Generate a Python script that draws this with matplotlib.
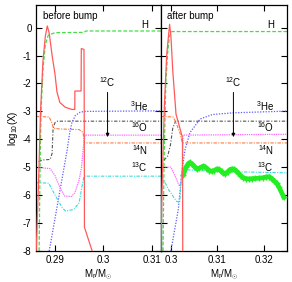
import matplotlib
matplotlib.use('Agg')
import matplotlib.pyplot as plt

plt.rcParams['font.family'] = ['Liberation Sans', 'DejaVu Sans']
plt.rcParams['font.size'] = 7
plt.rcParams['mathtext.fontset'] = 'custom'
plt.rcParams['mathtext.rm'] = 'Liberation Sans'
plt.rcParams['mathtext.it'] = 'Liberation Sans'

# ---- before bump (left panel) ----
b_red_x = [0.2861, 0.2866, 0.2870, 0.2875, 0.2880, 0.2884, 0.2888, 0.2891, 0.2894, 0.2900,
           0.2904, 0.2910, 0.2921, 0.2935, 0.2941, 0.29412, 0.2954, 0.29545, 0.2960,
           0.29605, 0.2961, 0.2977]
b_red_y = [-8.0, -5.5, -3.0, -1.2, -0.3, 0.06, -0.2, -0.6, -1.0, -1.67,
           -2.3, -2.68, -2.85, -2.93, -2.93, -2.27, -2.27, -0.75, -0.78,
           -2.5, -7.15, -8.0]

b_h_x = [0.2867, 0.2869, 0.2871, 0.2875, 0.2880, 0.2886, 0.2900, 0.2960, 0.2964, 0.3120]
b_h_y = [-8.0, -5.0, -3.0, -1.5, -0.6, -0.27, -0.18, -0.17, -0.12, -0.12]

b_he3_x = [0.2888, 0.2925, 0.2930, 0.2935, 0.2942, 0.2952, 0.2961, 0.3120]
b_he3_y = [-8.0, -4.4, -3.8, -3.4, -3.15, -3.03, -3.0, -2.98]

b_o16_x = [0.2866, 0.2875, 0.2890, 0.2894, 0.2896, 0.2900, 0.2905, 0.3120]
b_o16_y = [-4.8, -4.74, -4.72, -4.5, -3.6, -3.4, -3.35, -3.35]

b_c12_x = [0.2860, 0.2890, 0.2900, 0.2910, 0.2920, 0.2934, 0.2941, 0.2950, 0.2955, 0.2958,
           0.2962, 0.3120]
b_c12_y = [-5.0, -5.05, -5.3, -5.72, -6.03, -6.05, -5.92, -5.45, -5.0, -4.4,
           -3.85, -3.85]

b_n14_x = [0.2860, 0.2888, 0.2893, 0.2897, 0.2910, 0.2950, 0.2958, 0.2961, 0.3120]
b_n14_y = [-3.18, -3.2, -3.4, -3.6, -3.63, -3.65, -3.75, -4.13, -4.13]

b_c13_x = [0.2860, 0.2887, 0.2894, 0.2905, 0.2915, 0.2922, 0.2939, 0.2950, 0.2956, 0.2960,
           0.3120]
b_c13_y = [-5.55, -5.57, -5.8, -6.15, -6.45, -6.57, -6.51, -6.27, -5.68, -5.32,
           -5.32]

# ---- after bump (right panel) ----
a_red_x = [0.2979, 0.2980, 0.2986, 0.2991, 0.29972, 0.3000, 0.3004, 0.3011, 0.3019, 0.3024,
           0.3025, 0.30255]
a_red_y = [-8.0, -6.3, -2.75, -0.96, 0.12, -0.3, -1.55, -3.1, -3.58, -3.88,
           -4.06, -8.0]

a_h_x = [0.2983, 0.2985, 0.2989, 0.2993, 0.2997, 0.3002, 0.3250]
a_h_y = [-8.0, -5.0, -2.0, -0.9, -0.3, -0.14, -0.14]

a_he3_x = [0.3000, 0.3016, 0.3024, 0.3030, 0.3041, 0.3063, 0.3090, 0.3135, 0.3250]
a_he3_y = [-8.0, -6.5, -5.1, -4.4, -3.76, -3.27, -3.11, -3.05, -2.99]

a_o16_x = [0.2985, 0.2993, 0.2999, 0.3004, 0.3010, 0.3250]
a_o16_y = [-4.75, -4.6, -4.2, -3.6, -3.35, -3.35]

a_c12_x = [0.2978, 0.3000, 0.3010, 0.3016, 0.3019, 0.3022, 0.3024, 0.3026, 0.3250]
a_c12_y = [-4.98, -5.0, -5.35, -5.6, -5.68, -5.5, -5.2, -3.85, -3.82]

a_n14_x = [0.2978, 0.3005, 0.3012, 0.3020, 0.3024, 0.3026, 0.3250]
a_n14_y = [-3.18, -3.2, -3.45, -3.8, -4.1, -4.13, -4.13]

a_c13_x = [0.2978, 0.2983, 0.2995, 0.3012, 0.3019, 0.3022, 0.3025, 0.3040, 0.3100, 0.3250]
a_c13_y = [-5.38, -5.4, -5.8, -6.22, -6.26, -5.5, -5.05, -5.1, -5.15, -5.2]

a_plus_x = [0.3027, 0.3033, 0.3038, 0.3041, 0.3045, 0.3049, 0.3053, 0.3057, 0.3061, 0.3066,
            0.3070, 0.3074, 0.3078, 0.3083, 0.3088, 0.3093, 0.3099, 0.3104, 0.3109, 0.3113,
            0.3117, 0.3122, 0.3126, 0.3131, 0.3136, 0.3140, 0.3145, 0.3150, 0.3156, 0.3162,
            0.3168, 0.3175, 0.3182, 0.3190, 0.3198, 0.3205, 0.3212, 0.3218, 0.3223, 0.3228,
            0.3233, 0.3243]
a_plus_y = [-5.26, -4.98, -4.86, -4.83, -4.88, -4.95, -5.02, -5.06, -5.04, -4.99,
            -4.96, -4.99, -5.05, -5.12, -5.15, -5.12, -5.06, -5.08, -5.15, -5.22,
            -5.24, -5.17, -5.10, -5.06, -5.07, -5.12, -5.20, -5.30, -5.38, -5.41,
            -5.42, -5.41, -5.40, -5.39, -5.38, -5.35, -5.34, -5.42, -5.50, -5.58,
            -5.72, -6.07]

labels = ['H', '$^3$He', '$^{16}$O', '$^{14}$N', '$^{13}$C']
label_y = [0.08, -2.82, -3.57, -4.39, -4.99]

RED = '#ff5a5a'
GREEN = '#44dd44'
BLUE = '#5c5cff'
GREY = '#555555'
MAG = '#ff66ff'
ORANGE = '#ff7a40'
CYAN = '#33dddd'


def draw(ax, red, h, he3, o16, c12, n14, c13):
    ax.plot(*red, color=RED, lw=0.9, zorder=5)
    ax.plot(*h, color=GREEN, lw=0.9, dashes=(3, 1.5))
    ax.plot(*he3, color=BLUE, lw=0.9, dashes=(1, 1.2))
    ax.plot(*o16, color=GREY, lw=0.8, dashes=(3, 1.5, 1, 1.5))
    ax.plot(*c12, color=MAG, lw=0.9, dashes=(1, 0.8))
    ax.plot(*n14, color=ORANGE, lw=0.8, dashes=(3, 1.2, 1, 1.2))
    ax.plot(*c13, color=CYAN, lw=0.8, dashes=(3, 1.2, 1, 1.2))


fig = plt.figure(figsize=(2.92, 2.82), dpi=100)
ax1 = fig.add_axes([0.1223, 0.1099, 0.4280, 0.8713])
ax2 = fig.add_axes([0.5503, 0.1099, 0.4326, 0.8713])

draw(ax1, (b_red_x, b_red_y), (b_h_x, b_h_y), (b_he3_x, b_he3_y), (b_o16_x, b_o16_y),
     (b_c12_x, b_c12_y), (b_n14_x, b_n14_y), (b_c13_x, b_c13_y))
draw(ax2, (a_red_x, a_red_y), (a_h_x, a_h_y), (a_he3_x, a_he3_y), (a_o16_x, a_o16_y),
     (a_c12_x, a_c12_y), (a_n14_x, a_n14_y), (a_c13_x, a_c13_y))
ax2.plot(a_plus_x, a_plus_y, color='#22ee22', lw=3.4, zorder=4)
ax2.plot(a_plus_x, a_plus_y, '+', color='#22ee22', ms=4.5, mew=1.0, zorder=4)

ax1.set_xlim(0.2860, 0.3119)
ax2.set_xlim(0.2978, 0.3250)
ax1.set_xticks([0.29, 0.30, 0.31])
ax1.set_xticklabels(['0.29', '0.3', '0.31'])
ax2.set_xticks([0.30, 0.31, 0.32])
ax2.set_xticklabels(['0.3', '0.31', '0.32'])

for ax in (ax1, ax2):
    ax.set_ylim(-8, 0.8)
    ax.set_yticks(range(-8, 1))
    ax.tick_params(direction='in', length=4, width=0.8, top=True, right=True,
                   labelsize=7, pad=3)
    for s in ax.spines.values():
        s.set_linewidth(0.9)
    ax.set_xlabel(r'M$_r$/M$_{\odot}$', fontsize=7, labelpad=2)

ax1.set_yticklabels([str(v) for v in range(-8, 1)])
ax2.tick_params(labelleft=False)
ax1.set_ylabel(r'log$_{10}$(X)', fontsize=7, labelpad=2)

ax1.text(0.28745, 0.42, 'before bump', ha='left', va='center', fontsize=7)
ax2.text(0.29914, 0.42, 'after bump', ha='left', va='center', fontsize=7)

for ax, xr, xa in ((ax1, 0.3093, 0.30089), (ax2, 0.3222, 0.31346)):
    for lab, ly in zip(labels, label_y):
        ax.text(xr, ly, lab, ha='right', va='center', fontsize=7)
    ax.text(xa, -1.96, '$^{12}$C', ha='center', va='center', fontsize=7)
    ax.annotate('', xy=(xa, -3.92), xytext=(xa, -2.32),
                arrowprops=dict(arrowstyle='-|>', color='black', lw=0.7,
                                mutation_scale=5, shrinkA=0, shrinkB=0))

fig.savefig('out.png', dpi=100)
